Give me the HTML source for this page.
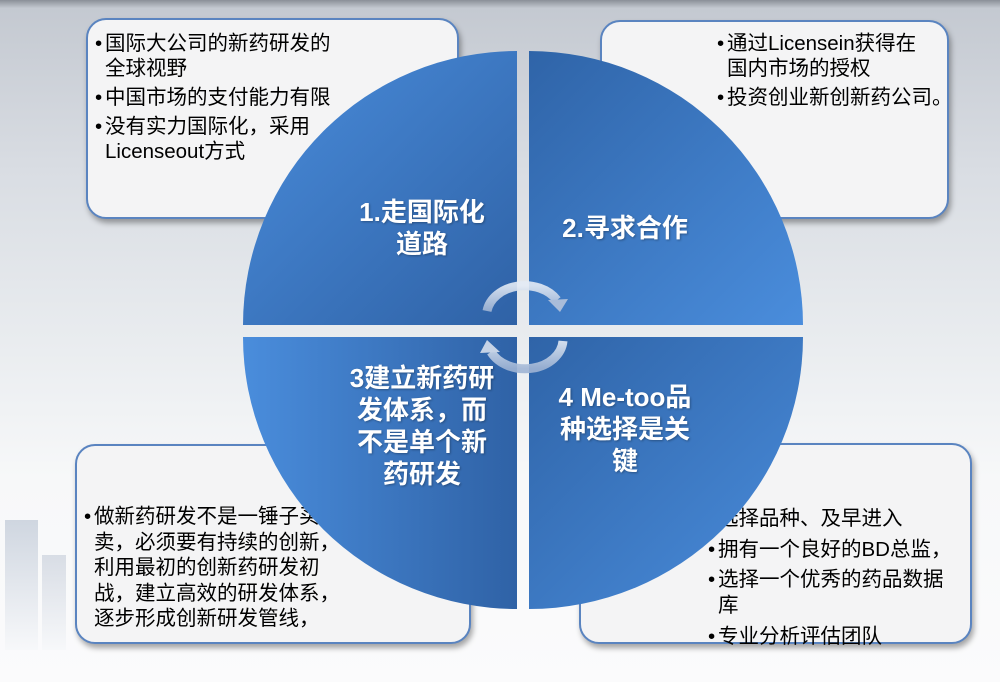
<!DOCTYPE html>
<html><head><meta charset="utf-8"><style>
html,body{margin:0;padding:0}
body{width:1000px;height:682px;position:relative;overflow:hidden;background:linear-gradient(180deg,#c3c8d0 0%,#d9dde3 25%,#e9ecef 50%,#f7f8f9 70%,#fbfbfc 100%);font-family:"Liberation Sans","Noto Sans CJK SC",sans-serif}
.box{position:absolute;background:#f4f4f5;border:2px solid #5a84c0;border-radius:20px;box-shadow:2px 4px 6px rgba(0,0,0,0.35);box-sizing:border-box}
.t{position:absolute;font-size:20.5px;line-height:25px;color:#000;white-space:nowrap}
.t p{margin:0 0 4px 0}
.t b{font-weight:normal;display:inline-block;width:10px}
.q{position:absolute;color:#fff;font-weight:bold;text-align:center;font-size:26px;line-height:32px;white-space:nowrap;text-shadow:1px 1px 2px rgba(0,0,0,0.3)}
</style></head><body>
<div style="position:absolute;left:0;top:0;width:1000px;height:8px;background:linear-gradient(#8a8f98,#c3c8d0)"></div>
<div style="position:absolute;left:5px;top:520px;width:33px;height:130px;background:linear-gradient(#cfd6e0,#f7f8fa)"></div>
<div style="position:absolute;left:42px;top:555px;width:24px;height:95px;background:linear-gradient(#d8dde5,#f7f8fa)"></div>

<div class="box" style="left:86px;top:18px;width:373px;height:201px"></div>
<div class="box" style="left:600px;top:20px;width:349px;height:199px"></div>
<div class="box" style="left:75px;top:444px;width:396px;height:200px"></div>
<div class="box" style="left:579px;top:443px;width:393px;height:201px"></div>

<div class="t" style="left:95px;top:31px">
<p><b>•</b>国际大公司的新药研发的<br><b></b>全球视野</p><p><b>•</b>中国市场的支付能力有限</p><p><b>•</b>没有实力国际化，采用<br><b></b>Licenseout方式</p></div>
<div class="t" style="left:717px;top:31px">
<p><b>•</b>通过Licensein获得在<br><b></b>国内市场的授权</p><p><b>•</b>投资创业新创新药公司。</p></div>
<div class="t" style="left:84px;top:504px;line-height:25.5px">
<p><b>•</b>做新药研发不是一锤子买<br><b></b>卖，必须要有持续的创新，<br><b></b>利用最初的创新药研发初<br><b></b>战，建立高效的研发体系，<br><b></b>逐步形成创新研发管线，</p></div>
<div class="t" style="left:708px;top:505px;line-height:27px">
<p><b></b>选择品种、及早进入</p><p><b>•</b>拥有一个良好的BD总监，</p><p style="line-height:26px"><b>•</b>选择一个优秀的药品数据<br><b></b>库</p><p><b>•</b>专业分析评估团队</p></div>

<svg style="position:absolute;left:0;top:0" width="1000" height="682">
<defs>
<linearGradient id="g1" x1="0" y1="0" x2="1" y2="1"><stop offset="0" stop-color="#4a8ddc"/><stop offset="1" stop-color="#2f62a6"/></linearGradient>
<linearGradient id="g2" x1="0" y1="0" x2="1" y2="1"><stop offset="0" stop-color="#2f64a8"/><stop offset="1" stop-color="#4a8ddc"/></linearGradient>
<linearGradient id="g3" x1="0" y1="0" x2="1" y2="0"><stop offset="0" stop-color="#4a8ddc"/><stop offset="1" stop-color="#2f62a6"/></linearGradient>
<linearGradient id="g4" x1="0" y1="0" x2="1" y2="1"><stop offset="0" stop-color="#2f64a8"/><stop offset="1" stop-color="#4a8ddc"/></linearGradient>
<linearGradient id="ga" x1="0" y1="0" x2="0" y2="1"><stop offset="0" stop-color="#e4ebf5"/><stop offset="1" stop-color="#9fb4d4"/></linearGradient>
</defs>
<path d="M517,325 L243,325 A274,274 0 0 1 517,51 Z" fill="url(#g1)"/>
<path d="M529,325 L529,51 A274,274 0 0 1 803,325 Z" fill="url(#g2)"/>
<path d="M517,337 L517,609 A274,272 0 0 1 243,337 Z" fill="url(#g3)"/>
<path d="M529,337 L803,337 A274,272 0 0 1 529,609 Z" fill="url(#g4)"/>
<path d="M487,311 A38,30 0 0 1 557,300" fill="none" stroke="url(#ga)" stroke-width="9" opacity="0.9"/>
<path d="M548,300 L568,299 L560,312 Z" fill="#a9bcd9"/>
<path d="M563,341 A38,30 0 0 1 491,352" fill="none" stroke="url(#ga)" stroke-width="9" opacity="0.9"/>
<path d="M480,353 L487,340 L500,352 Z" fill="#c6d3e6"/>
</svg>

<div class="q" style="left:322px;top:196px;width:200px">1.走国际化<br>道路</div>
<div class="q" style="left:525px;top:212px;width:200px">2.寻求合作</div>
<div class="q" style="left:322px;top:362px;width:200px">3建立新药研<br>发体系，而<br>不是单个新<br>药研发</div>
<div class="q" style="left:525px;top:381px;width:200px">4 Me-too品<br>种选择是关<br>键</div>
</body></html>
